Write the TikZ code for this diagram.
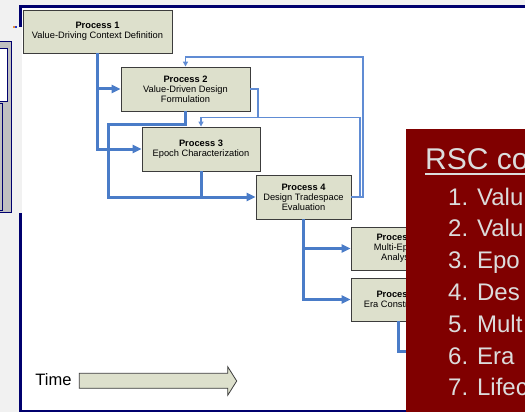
\documentclass[tikz,border=0pt]{standalone}
\usepackage{fontspec}
\setmainfont{Liberation Sans}
\usetikzlibrary{arrows.meta}
\definecolor{boxfill}{RGB}{221,224,204}
\definecolor{boxline}{RGB}{60,60,60}
\definecolor{flow}{RGB}{74,124,200}
\definecolor{flowthin}{RGB}{96,140,212}
\definecolor{navy}{RGB}{0,0,110}
\definecolor{rscred}{RGB}{128,0,0}
\definecolor{rsctext}{RGB}{220,220,220}
\definecolor{slidegray}{RGB}{241,241,241}
\definecolor{panelgray}{RGB}{192,192,192}
\definecolor{markorange}{RGB}{230,140,60}
\definecolor{markblue}{RGB}{40,60,200}
\begin{document}
\begin{tikzpicture}[x=1pt,y=-1pt,
  proc/.style={draw=boxline, line width=0.9pt, fill=boxfill, inner sep=0pt, align=center,
    font=\fontsize{9.3}{10}\selectfont},
  thickflow/.style={draw=flow, line width=3pt},
  thickarrow/.style={thickflow, -{Triangle[length=9pt,width=8pt]}},
  thinflow/.style={draw=flowthin, line width=1.2pt},
  thinarrow/.style={thinflow, -{Triangle[length=5pt,width=5pt]}},
  rscitem/.style={anchor=base west, inner sep=0pt, text=rsctext, font=\fontsize{24}{24}\selectfont}]
\useasboundingbox (0,0) rectangle (525,412);
% slide background and frame
\fill[slidegray] (0,0) rectangle (525,412);
\fill[white] (19,5) rectangle (525,412);
\fill[navy] (19,5) rectangle (525,8);
\fill[navy] (19,5) rectangle (21.5,412);
\fill[navy] (19,409.5) rectangle (525,412);
% left panel overlay
\fill[slidegray] (0,27.5) rectangle (22,213);
\filldraw[fill=panelgray, draw=navy, line width=0.8pt] (-2,41.7) rectangle (11.5,212.7);
\filldraw[fill=white, draw=navy, line width=0.8pt] (-2,48) rectangle (7,101.5);
\draw[navy, line width=0.8pt] (-2,103) rectangle (2.7,210);
\fill[markorange] (13,26.3) rectangle (15,28);
\fill[markblue] (15,26.3) rectangle (17,28);
% process boxes
\node[proc, minimum width=149pt, minimum height=43pt] (p1) at (97.5,31.5) {\textbf{Process 1}\\Value-Driving Context Definition};
\node[proc, minimum width=129pt, minimum height=44pt] (p2) at (185.5,89) {\textbf{Process 2}\\Value-Driven Design\\Formulation};
\node[proc, minimum width=118pt, minimum height=44pt] (p3) at (201,149) {\textbf{Process 3}\\Epoch Characterization};
\node[proc, minimum width=95pt, minimum height=44pt] (p4) at (303.5,197) {\textbf{Process 4}\\Design Tradespace\\Evaluation};
\node[proc, minimum width=95pt, minimum height=43pt] (p5) at (398.5,248.5) {\textbf{Process 5}\\Multi-Epoch\\Analysis};
\node[proc, minimum width=95pt, minimum height=43pt] (p6) at (398.5,299.5) {\textbf{Process 6}\\Era Construction};
% thick flows
\draw[thickarrow] (p1.south) |- (p3.west);
\draw[thickarrow] (p1.south |- p2.west) -- (p2.west);
\coordinate (b1) at (108,124);
\draw[thickarrow] (p2.south) |- (b1) |- (p4.west);
\draw[thickflow] (p3.south) -- (p3.south |- p4.west);
\draw[thickarrow] (p4.south) |- (p6.west);
\draw[thickarrow] (p4.south |- p5.west) -- (p5.west);
\coordinate (b2) at (415,351.5);
\draw[thickflow] (p6.south) |- (b2);
% thin feedback flows
\coordinate (c1) at (363,57);
\coordinate (c2) at (360,117.5);
\coordinate (c3) at (258,117.5);
\draw[thinarrow] (p4.east) -| (c1) -| (p2.north);
\draw[thinarrow] (p4.east) -| (c2) -| (p3.north);
\draw[thinflow] (p2.east) -| (c3);
% time arrow
\node[inner sep=0pt, font=\fontsize{16.5}{16.5}\selectfont] (time) at (53.5,379.5) {Time};
\filldraw[fill=boxfill, draw=boxline, line width=0.8pt]
  (79.3,373.3) -- (227.7,373.3) -- (227.7,366.7) -- (236.7,381) -- (227.7,395.3) -- (227.7,388.3) -- (79.3,388.3) -- cycle;
% RSC box
\fill[rscred] (406,129) rectangle (527,414);
\begin{scope}
\clip (406,129) rectangle (525,412);
\node[anchor=base west, inner sep=0pt, text=rsctext, font=\fontsize{30}{30}\selectfont] (title) at (425,169) {RSC co};
\draw[rsctext, line width=2pt] (425,173.8) -- (527,173.8);
\node[rscitem] (i1) at (448,205) {1. Valu};
\node[rscitem] (i2) at (448,236.8) {2. Valu};
\node[rscitem] (i3) at (448,268.6) {3. Epo};
\node[rscitem] (i4) at (448,300.4) {4. Des};
\node[rscitem] (i5) at (448,332.2) {5. Mult};
\node[rscitem] (i6) at (448,364) {6. Era};
\node[rscitem] (i7) at (448,395.8) {7. Lifec};
\end{scope}
\end{tikzpicture}
\end{document}
